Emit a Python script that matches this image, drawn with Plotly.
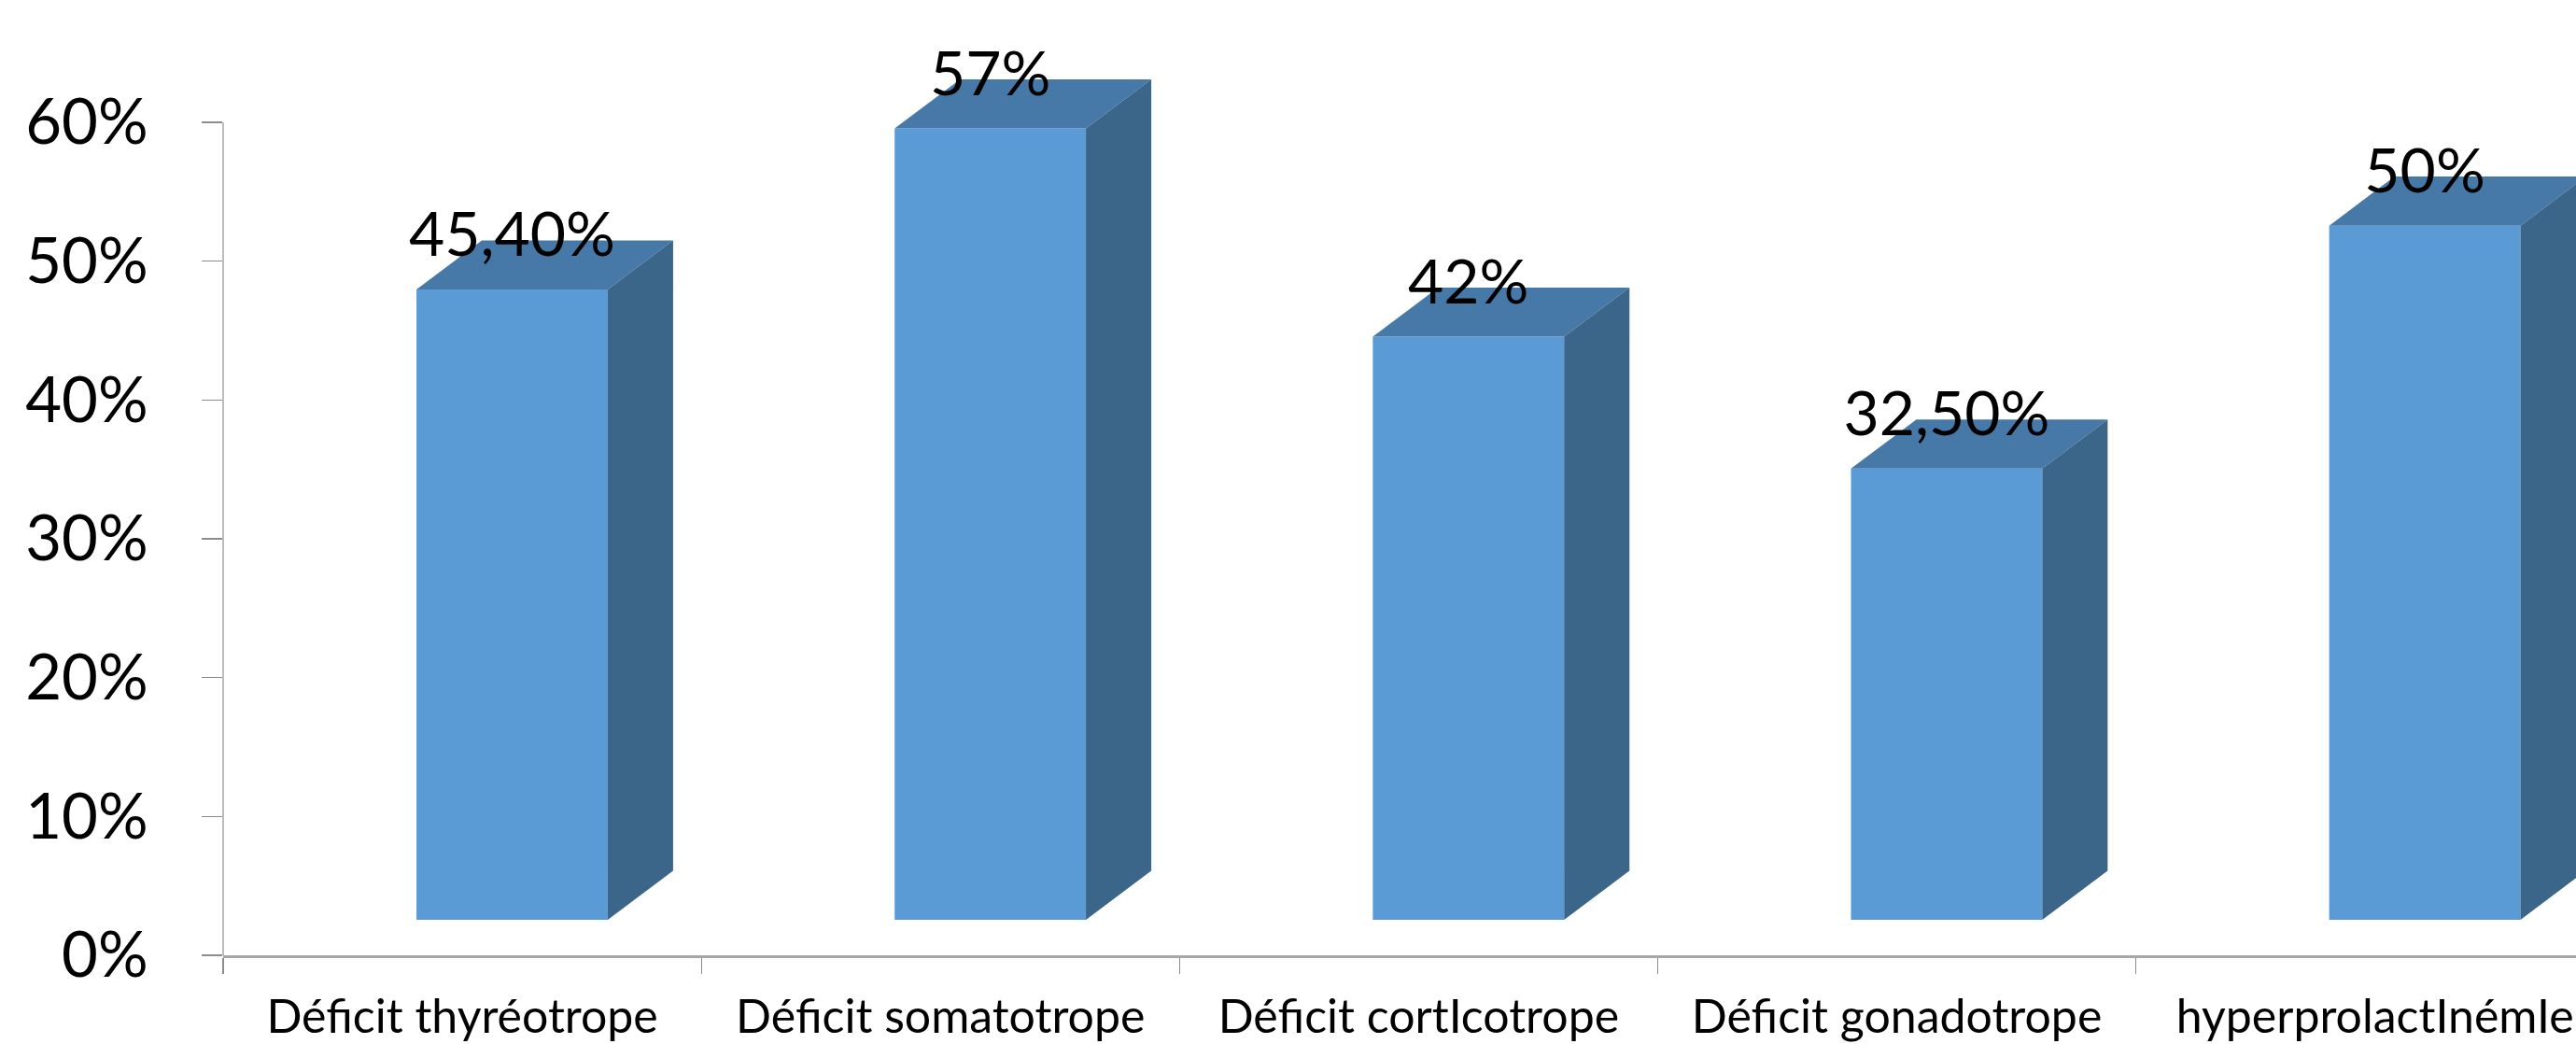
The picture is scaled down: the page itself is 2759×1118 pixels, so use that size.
import plotly.graph_objects as go

# ---- data ----
categories = ["Déficit thyréotrope", "Déficit somatotrope", "Déficit cortIcotrope",
              "Déficit gonadotrope", "hyperprolactInémIe"]
values = [0.454, 0.57, 0.42, 0.325, 0.50]
value_labels = ["45,40%", "57%", "42%", "32,50%", "50%"]
y_tickvals = [0, 0.1, 0.2, 0.3, 0.4, 0.5, 0.6]

# ---- geometry / style constants ----
W, H = 2759, 1118
M_L = 239
M_B = H - 1023
PLOT_W = W - M_L
PLOT_H = H - M_B
PX_PER_CAT = 512.15
PX_PER_UNIT = 892 / 0.6          # pixels per 100 %
Y_TOP = PLOT_H / PX_PER_UNIT
FLOOR = 38 / PX_PER_UNIT          # 3D floor lift of the bars
BAR_OFFSET = -0.0957
BAR_WIDTH = 0.4
DX = 70 / PX_PER_CAT              # depth in category units
DY = 52.6 / PX_PER_UNIT           # depth in value units
X_RANGE = [-0.5, -0.5 + PLOT_W / PX_PER_CAT]

FRONT = "#5B9BD5"
TOP = "#4679A7"
SIDE = "#3B6589"
AXIS_GREY = "#A6A6A6"
FONT = "Lato"

fig = go.Figure()

# front faces
fig.add_trace(go.Bar(
    x=categories, y=values, xaxis="x", yaxis="y2",
    width=BAR_WIDTH, offset=BAR_OFFSET,
    marker=dict(color=FRONT, line=dict(width=0)),
    showlegend=False, hoverinfo="skip",
))

# top and side faces (3D effect) derived from values
for i, v in enumerate(values):
    xl = i + BAR_OFFSET
    xr = xl + BAR_WIDTH
    fig.add_trace(go.Scatter(
        x=[xl, xr, xr + DX, xl + DX, xl], y=[v, v, v + DY, v + DY, v],
        xaxis="x2", yaxis="y2", mode="lines", fill="toself",
        fillcolor=TOP, line=dict(width=0, color=TOP),
        showlegend=False, hoverinfo="skip",
    ))
    fig.add_trace(go.Scatter(
        x=[xr, xr, xr + DX, xr + DX, xr], y=[0, v, v + DY, DY, 0],
        xaxis="x2", yaxis="y2", mode="lines", fill="toself",
        fillcolor=SIDE, line=dict(width=0, color=SIDE),
        showlegend=False, hoverinfo="skip",
    ))

# value labels
fig.add_trace(go.Scatter(
    x=[i + BAR_OFFSET + BAR_WIDTH / 2 for i in range(len(values))],
    y=[v + DY for v in values],
    xaxis="x2", yaxis="y2", mode="text", text=value_labels,
    textposition="middle center",
    textfont=dict(family=FONT, size=66, color="black"),
    showlegend=False, hoverinfo="skip", cliponaxis=False,
))

# y axis line (from 0 % to 60 %)
fig.add_shape(type="line", xref="paper", yref="y", x0=0, x1=0,
              y0=0, y1=y_tickvals[-1], line=dict(color=AXIS_GREY, width=1.5))

fig.update_layout(
    width=W, height=H,
    margin=dict(l=M_L, r=0, t=0, b=M_B, autoexpand=False),
    paper_bgcolor="white", plot_bgcolor="white",
    font=dict(family=FONT, color="black"),
    showlegend=False,
    hovermode=False,
    xaxis=dict(
        type="category", categoryorder="array", categoryarray=categories,
        range=X_RANGE, tickson="boundaries", ticks="outside", ticklen=17,
        tickwidth=1.2, tickcolor="#8C8C8C",
        showline=True, linecolor=AXIS_GREY, linewidth=3,
        showgrid=False, zeroline=False, automargin=False,
        tickfont=dict(family=FONT, size=50, color="black"),
        ticklabelstandoff=20,
    ),
    xaxis2=dict(
        type="linear", overlaying="x", range=X_RANGE, visible=False,
        showgrid=False, zeroline=False,
    ),
    yaxis=dict(
        range=[0, Y_TOP], tickvals=y_tickvals, tickformat=".0%",
        ticks="outside", ticklen=22, tickwidth=1.2, tickcolor="#8C8C8C",
        showline=False, showgrid=False, zeroline=False, automargin=False,
        tickfont=dict(family=FONT, size=67, color="black"),
        ticklabelstandoff=44,
    ),
    yaxis2=dict(
        overlaying="y", range=[-FLOOR, Y_TOP - FLOOR], visible=False,
        showgrid=False, zeroline=False,
    ),
)

# remove the default page margin so the figure fills the window exactly
fig.write_html("out.html",
               config={"displayModeBar": False, "staticPlot": True},
               post_script="document.body.style.margin='0';")
